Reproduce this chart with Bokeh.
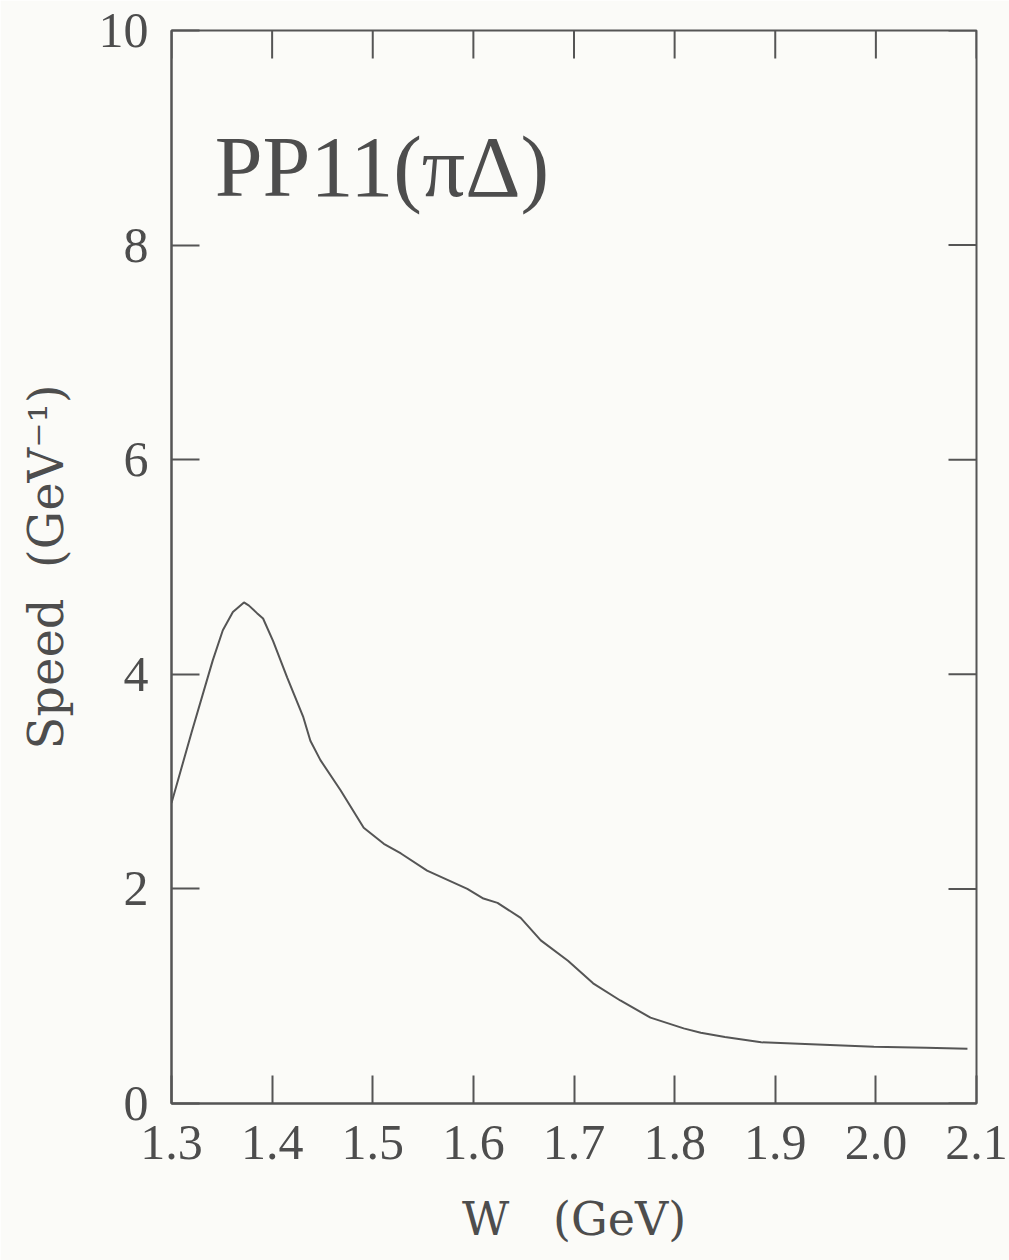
import math
from bokeh.plotting import figure
from bokeh.models import Range1d, LinearAxis, FixedTicker, PrintfTickFormatter, Label
from bokeh.embed import file_html
from bokeh.resources import INLINE

# ---- data ----
W = [1.300, 1.320, 1.341, 1.351, 1.361, 1.372, 1.377, 1.385, 1.391, 1.401,
     1.415, 1.431, 1.438, 1.448, 1.468, 1.491, 1.511, 1.528, 1.554, 1.594,
     1.610, 1.624, 1.647, 1.667, 1.694, 1.719, 1.746, 1.776, 1.809, 1.826,
     1.850, 1.886, 1.942, 1.998, 2.050, 2.091]
SPEED = [2.80, 3.46, 4.13, 4.41, 4.58, 4.67, 4.64, 4.57, 4.52, 4.31,
         3.97, 3.60, 3.38, 3.20, 2.92, 2.57, 2.42, 2.33, 2.17, 2.00,
         1.91, 1.87, 1.73, 1.52, 1.33, 1.12, 0.96, 0.80, 0.70, 0.66,
         0.62, 0.57, 0.55, 0.53, 0.52, 0.51]
X_TICKS = [1.3, 1.4, 1.5, 1.6, 1.7, 1.8, 1.9, 2.0, 2.1]
Y_TICKS = [0, 2, 4, 6, 8, 10]
TITLE = "PP11(\u03c0\u0394)"
X_LABEL = "W\u00a0\u00a0\u00a0(GeV)"
Y_LABEL = "Speed\u00a0\u00a0(GeV\u207b\u00b9)"

TICK_FONT = "Liberation Serif"
LABEL_FONT = "DejaVu Serif"
TITLE_FONT = "Liberation Serif"
INK = "#555555"
TXT = "#4d4d4d"
BG = "#fbfbf8"

p = figure(width=1009, height=1260, output_backend="svg", toolbar_location=None,
           x_range=Range1d(1.3, 2.1), y_range=Range1d(0, 10),
           x_axis_location=None, y_axis_location=None,
           min_border_left=171, min_border_right=33,
           min_border_top=30, min_border_bottom=157)
p.background_fill_color = BG
p.border_fill_color = BG
p.outline_line_color = INK
p.outline_line_width = 2
p.grid.visible = False

xt = FixedTicker(ticks=X_TICKS, num_minor_ticks=0)
yt = FixedTicker(ticks=Y_TICKS, num_minor_ticks=0)


def style(ax, label_size):
    ax.axis_line_color = INK
    ax.axis_line_width = 2
    ax.major_tick_line_color = INK
    ax.major_tick_line_width = 2
    ax.major_tick_in = 28
    ax.major_tick_out = 0
    ax.minor_tick_line_color = None
    ax.major_label_text_font = TICK_FONT
    ax.major_label_text_font_size = "50px"
    ax.major_label_text_color = TXT
    ax.axis_label_text_font = LABEL_FONT
    ax.axis_label_text_font_size = label_size
    ax.axis_label_text_font_style = "normal"
    ax.axis_label_text_color = TXT


xb = LinearAxis(ticker=xt, formatter=PrintfTickFormatter(format="%.1f"), axis_label=X_LABEL)
style(xb, "46px")
xb.major_label_standoff = 22
xb.axis_label_standoff = 30
p.add_layout(xb, "below")

yl = LinearAxis(ticker=yt, axis_label=Y_LABEL)
style(yl, "48px")
yl.major_label_standoff = 23
yl.axis_label_standoff = 22
p.add_layout(yl, "left")

# inward ticks on the top and right edges of the frame
p.ray(x=X_TICKS, y=[Y_TICKS[-1]] * len(X_TICKS), length=28, length_units="screen",
      angle=-math.pi / 2, line_color=INK, line_width=2)
p.ray(x=[X_TICKS[-1]] * len(Y_TICKS), y=Y_TICKS, length=28, length_units="screen",
      angle=math.pi, line_color=INK, line_width=2)

p.line(W, SPEED, line_color=INK, line_width=2)

p.add_layout(Label(x=1.343, y=8.73, text=TITLE, text_font=TITLE_FONT, text_font_size="86px",
                   text_color=TXT, text_align="left", text_baseline="alphabetic"))

open("out.html", "w").write(file_html(p, INLINE))
